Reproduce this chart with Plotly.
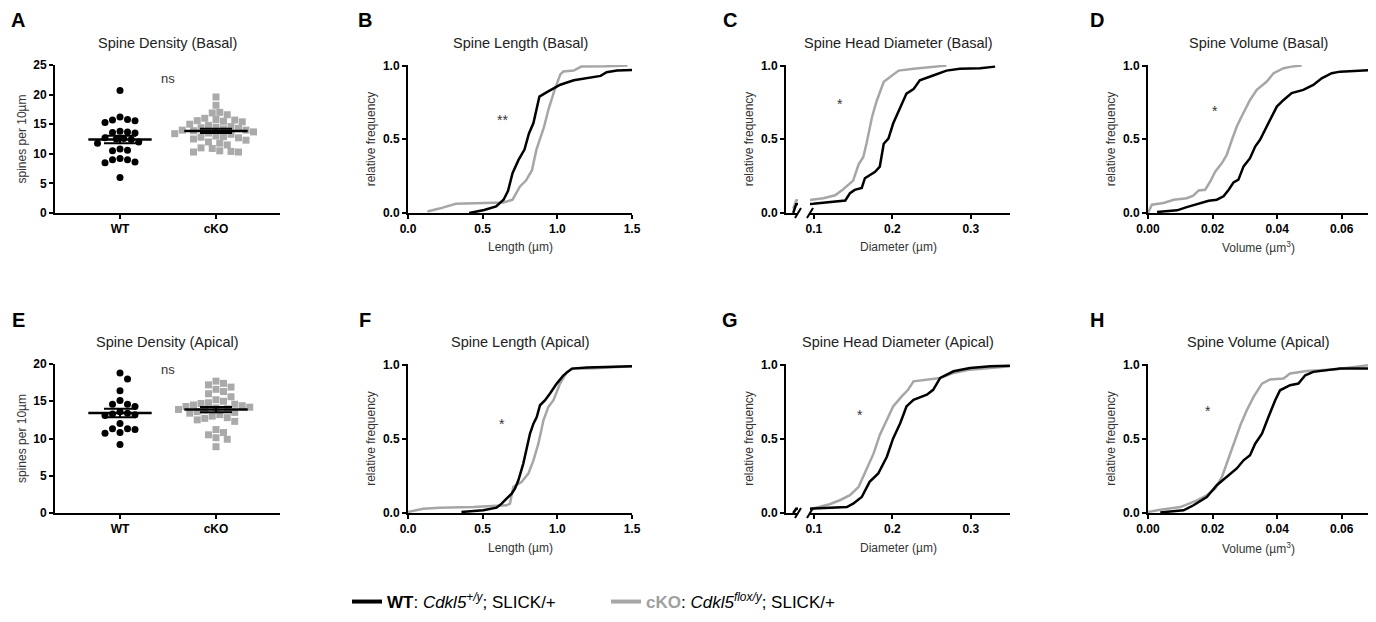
import numpy as np
import plotly.graph_objects as go

# the page body keeps its default 8px margin, so the figure is drawn 16px smaller
PAGE_W, PAGE_H = 1376, 622
BODY = 8
W, H = PAGE_W - 2 * BODY, PAGE_H - 2 * BODY
FONT = "Liberation Sans, Arial, sans-serif"
INK = "#000000"
GREY = "#a6a6a6"
TXT = "#333333"

groups = ["WT", "cKO"]

density_basal_wt = [20.7, 16.2, 15.8, 15.7, 15.6, 15.3, 13.8, 13.7, 13.6, 13.5, 12.7, 12.6, 12.5,
                    12.4, 12.0, 11.8, 10.8, 10.6, 10.5, 9.0, 9.0, 9.2, 8.5, 8.6, 6.0]
density_basal_cko = [19.6, 18.2, 17.0, 16.9, 16.6, 16.0, 15.8, 15.7, 15.6, 15.5, 15.4, 15.0, 14.8,
                     14.6, 14.5, 14.4, 14.3, 14.2, 14.0, 14.0, 13.9, 13.7, 13.5, 13.4, 13.3, 13.0,
                     12.9, 12.8, 12.7, 12.5, 12.3, 12.0, 11.8, 11.5, 11.0, 10.9, 10.5, 10.4, 10.3, 10.3]
density_apical_wt = [18.8, 18.0, 16.4, 15.1, 14.6, 14.3, 14.6, 13.3, 13.2, 13.1, 13.6, 13.4, 12.0,
                     11.3, 11.3, 11.2, 10.8, 10.7, 9.2]
density_apical_cko = [17.7, 17.4, 17.2, 16.9, 16.6, 16.3, 16.0, 15.6, 15.2, 15.0, 14.8, 14.6, 14.5,
                      14.3, 14.2, 14.1, 14.0, 13.9, 13.8, 13.6, 13.4, 13.2, 13.0, 12.8, 12.7, 12.5,
                      12.3, 13.5, 14.4, 14.7, 11.2, 10.8, 10.5, 10.1, 9.9, 8.9]

# cumulative distributions: x value, relative frequency
length_basal_wt_x = [0.41, 0.51, 0.59, 0.64, 0.67, 0.70, 0.74, 0.78, 0.81, 0.84, 0.86, 0.88, 0.93,
                     0.97, 1.02, 1.11, 1.29, 1.33, 1.40, 1.50]
length_basal_wt_y = [0.0, 0.02, 0.045, 0.09, 0.15, 0.27, 0.36, 0.43, 0.54, 0.61, 0.70, 0.79, 0.82,
                     0.84, 0.87, 0.90, 0.93, 0.955, 0.966, 0.97]
length_basal_cko_x = [0.13, 0.21, 0.32, 0.44, 0.64, 0.70, 0.75, 0.79, 0.83, 0.86, 0.91, 0.94, 0.98,
                      1.02, 1.04, 1.11, 1.16, 1.33, 1.47]
length_basal_cko_y = [0.01, 0.03, 0.063, 0.067, 0.072, 0.09, 0.18, 0.22, 0.29, 0.43, 0.58, 0.70,
                      0.83, 0.94, 0.96, 0.966, 0.993, 0.995, 1.0]

diam_basal_wt_x = [0.088, 0.0905, 0.099, 0.116, 0.140, 0.146, 0.152, 0.161, 0.165, 0.178, 0.184,
                   0.189, 0.195, 0.201, 0.210, 0.218, 0.227, 0.235, 0.252, 0.269, 0.286, 0.312, 0.331]
diam_basal_wt_y = [0.0, 0.06, 0.063, 0.072, 0.085, 0.135, 0.157, 0.17, 0.236, 0.28, 0.315, 0.47,
                   0.505, 0.607, 0.72, 0.81, 0.84, 0.90, 0.933, 0.966, 0.978, 0.982, 0.993]
diam_basal_cko_x = [0.088, 0.0905, 0.097, 0.112, 0.127, 0.137, 0.150, 0.157, 0.163, 0.167, 0.174,
                    0.180, 0.189, 0.197, 0.208, 0.227, 0.252, 0.269]
diam_basal_cko_y = [0.03, 0.085, 0.09, 0.10, 0.12, 0.16, 0.22, 0.33, 0.38, 0.47, 0.65, 0.76, 0.89,
                    0.92, 0.966, 0.978, 0.99, 1.0]

vol_basal_wt_x = [0.0028, 0.009, 0.012, 0.016, 0.0188, 0.0213, 0.0234, 0.025, 0.0265, 0.028, 0.0296,
                  0.0316, 0.0332, 0.0347, 0.0368, 0.0384, 0.0399, 0.042, 0.0445, 0.0481, 0.0512,
                  0.0538, 0.0569, 0.0595, 0.0636, 0.07]
vol_basal_wt_y = [0.007, 0.018, 0.04, 0.068, 0.083, 0.09, 0.113, 0.158, 0.208, 0.226, 0.316, 0.372,
                  0.451, 0.497, 0.587, 0.666, 0.722, 0.767, 0.813, 0.835, 0.869, 0.914, 0.948, 0.959,
                  0.964, 0.97]
vol_basal_cko_x = [0.0, 0.0012, 0.0048, 0.008, 0.012, 0.014, 0.0157, 0.0177, 0.0193, 0.0208, 0.0229,
                   0.0244, 0.026, 0.0275, 0.029, 0.0316, 0.0337, 0.0368, 0.0389, 0.042, 0.0445, 0.0476]
vol_basal_cko_y = [0.0, 0.056, 0.068, 0.09, 0.10, 0.117, 0.153, 0.158, 0.214, 0.28, 0.339, 0.395,
                   0.497, 0.587, 0.655, 0.767, 0.835, 0.892, 0.948, 0.982, 0.993, 1.0]

length_apical_wt_x = [0.358, 0.504, 0.593, 0.627, 0.66, 0.694, 0.716, 0.739, 0.772, 0.795, 0.817,
                      0.84, 0.862, 0.884, 0.918, 0.951, 0.996, 1.041, 1.097, 1.198, 1.5]
length_apical_wt_y = [0.007, 0.018, 0.036, 0.063, 0.097, 0.13, 0.164, 0.22, 0.333, 0.445, 0.535,
                      0.602, 0.647, 0.726, 0.76, 0.805, 0.872, 0.928, 0.973, 0.98, 0.989]
length_apical_cko_x = [0.0, 0.1, 0.213, 0.437, 0.66, 0.683, 0.705, 0.76, 0.806, 0.84, 0.873, 0.907,
                       0.94, 0.974, 1.018, 1.063, 1.108, 1.22, 1.5]
length_apical_cko_y = [0.007, 0.029, 0.036, 0.04, 0.052, 0.063, 0.175, 0.209, 0.265, 0.355, 0.467,
                       0.625, 0.715, 0.76, 0.872, 0.95, 0.973, 0.973, 0.989]

diam_apical_wt_x = [0.088, 0.0905, 0.099, 0.125, 0.142, 0.150, 0.161, 0.171, 0.182, 0.193, 0.201,
                    0.210, 0.218, 0.227, 0.244, 0.252, 0.261, 0.278, 0.299, 0.325, 0.350]
diam_apical_wt_y = [0.0, 0.028, 0.03, 0.036, 0.04, 0.063, 0.108, 0.21, 0.266, 0.379, 0.503, 0.605,
                    0.718, 0.763, 0.797, 0.83, 0.91, 0.955, 0.977, 0.989, 0.993]
diam_apical_cko_x = [0.088, 0.0905, 0.099, 0.120, 0.133, 0.146, 0.157, 0.167, 0.176, 0.184, 0.193,
                     0.201, 0.212, 0.220, 0.227, 0.244, 0.261, 0.278, 0.299, 0.325, 0.350]
diam_apical_cko_y = [0.0, 0.028, 0.03, 0.059, 0.086, 0.12, 0.176, 0.29, 0.40, 0.526, 0.628, 0.718,
                     0.786, 0.83, 0.887, 0.898, 0.91, 0.944, 0.966, 0.977, 0.989]

vol_apical_wt_x = [0.0038, 0.011, 0.0141, 0.0182, 0.0213, 0.0244, 0.0275, 0.0296, 0.0316, 0.0332,
                   0.0353, 0.0373, 0.0394, 0.0409, 0.044, 0.0466, 0.0487, 0.0512, 0.0595, 0.07]
vol_apical_wt_y = [0.004, 0.018, 0.052, 0.108, 0.187, 0.243, 0.30, 0.355, 0.389, 0.467, 0.535, 0.647,
                   0.76, 0.827, 0.861, 0.872, 0.928, 0.951, 0.973, 0.973]
vol_apical_cko_x = [0.0, 0.0038, 0.01, 0.0152, 0.0182, 0.0208, 0.0229, 0.0244, 0.0265, 0.0286,
                    0.0306, 0.0327, 0.0353, 0.0378, 0.042, 0.044, 0.0492, 0.0584, 0.07]
vol_apical_cko_y = [0.007, 0.022, 0.04, 0.085, 0.119, 0.164, 0.243, 0.333, 0.467, 0.591, 0.692,
                    0.782, 0.872, 0.90, 0.906, 0.94, 0.957, 0.969, 1.0]


def px_x(p):
    # page pixel -> paper fraction
    return min(max((p - BODY) / W, 0.0), 1.0)


def px_y(p):
    return min(max(1 - (p - BODY) / H, 0.0), 1.0)


def swarm(values, center, sx, sy, diam=7.5):
    """Simple beeswarm: offset each point sideways until it no longer overlaps."""
    vals = np.asarray(values, dtype=float)
    xs = np.zeros(len(vals))
    placed = []
    step = diam * 0.5 / sx
    for i in np.argsort(-vals):
        v = vals[i]
        for k in range(0, 60):
            cands = [center] if k == 0 else [center + k * step, center - k * step]
            hit = None
            for c in cands:
                if all(((c - px) * sx) ** 2 + ((v - py) * sy) ** 2 >= diam ** 2 for px, py in placed):
                    hit = c
                    break
            if hit is not None:
                break
        xs[i] = hit
        placed.append((hit, v))
    return xs


tickfont = dict(family=FONT, size=12, color=INK, weight="bold")
titlefont = dict(family=FONT, size=12, color=TXT)


def axis_style(**kw):
    base = dict(showline=True, linewidth=2, linecolor=INK, ticks="outside", ticklen=4,
                tickwidth=2, tickcolor=INK, showgrid=False, zeroline=False, tickfont=tickfont,
                fixedrange=True, automargin=False)
    base.update(kw)
    return base


fig = go.Figure()
layout = {}
annotations = []
shapes = []

rows = [dict(top=65, bottom=213, xtitle_y=247, title_y=43, letter_y=20),
        dict(top=364, bottom=513, xtitle_y=548, title_y=342, letter_y=320)]

# horizontal panel geometry, page pixels (figure ends at page x 1368)
PANEL_A = (55, 280)
PANEL_B = (408, 632)
PANEL_C_STUB = (786, 798)
PANEL_C = (810, 1010)
PANEL_D = (1148, 1368)
VOL_MAX = 0.07 * (PANEL_D[1] - PANEL_D[0]) / 226  # keep the reference scale of 0.07 over 226px

ax_n = [0]


def new_axes():
    ax_n[0] += 1
    return ax_n[0]


def add_title(text, cx, cy, size=14.5, bold=False, color="#222222"):
    annotations.append(dict(text=text, x=px_x(cx), y=px_y(cy), xref="paper", yref="paper",
                            showarrow=False, xanchor="center", yanchor="middle",
                            font=dict(family=FONT, size=size, color=color,
                                      weight="bold" if bold else "normal")))


def density_panel(row, wt, cko, ymax, title, letter, star_y):
    r = rows[row]
    n = new_axes()
    xa, ya = f"x{n}", f"y{n}"
    sy = (r["bottom"] - r["top"]) / ymax
    sx = 96.0
    x0 = (PANEL_A[0] - 120) / sx
    x1 = x0 + (PANEL_A[1] - PANEL_A[0]) / sx
    for i, (vals, sym, col) in enumerate([(wt, "circle", INK), (cko, "square", "#aaaaaa")]):
        xs = swarm(vals, i, sx, sy)
        fig.add_trace(go.Scatter(x=xs, y=vals, mode="markers", xaxis=xa, yaxis=ya,
                                 marker=dict(symbol=sym, size=7, color=col), showlegend=False,
                                 hoverinfo="y", cliponaxis=False))
        m = float(np.mean(vals))
        sem = float(np.std(vals, ddof=1) / np.sqrt(len(vals)))
        fig.add_trace(go.Scatter(x=[i - 0.33, i + 0.33], y=[m, m], mode="lines", xaxis=xa, yaxis=ya,
                                 line=dict(color=INK, width=2.5), showlegend=False, hoverinfo="skip"))
        fig.add_trace(go.Scatter(x=[i], y=[m], mode="markers", xaxis=xa, yaxis=ya,
                                 marker=dict(size=1, color="rgba(0,0,0,0)"),
                                 error_y=dict(type="data", array=[sem], color=INK, thickness=2, width=16),
                                 showlegend=False, hoverinfo="skip"))
    key = "" if n == 1 else str(n)
    layout[f"xaxis{key}"] = axis_style(domain=[px_x(PANEL_A[0]), px_x(PANEL_A[1])], range=[x0, x1],
                                       tickvals=[0, 1], ticktext=groups, anchor=ya)
    layout[f"yaxis{key}"] = axis_style(domain=[px_y(r["bottom"]), px_y(r["top"])], range=[0, ymax],
                                       dtick=5, anchor=xa,
                                       title=dict(text="spines per 10µm", font=titlefont, standoff=4))
    annotations.append(dict(text="ns", x=0.5, y=star_y, xref=xa, yref=ya, showarrow=False,
                            font=dict(family=FONT, size=13, color=TXT)))
    add_title(title, sum(PANEL_A) / 2, r["title_y"])
    add_title(letter, 18, r["letter_y"], size=20, bold=True, color=INK)


def cdf_axes(row, span, rng, dtick, fmt, xtitle, stub=None):
    r = rows[row]
    ydom = [px_y(r["bottom"]), px_y(r["top"])]
    yfmt = dict(domain=ydom, range=[0, 1.004], tickvals=[0, 0.5, 1], tickformat=".1f",
                title=dict(text="relative frequency", font=titlefont, standoff=5))
    if stub is None:
        n = new_axes()
        layout[f"xaxis{n}"] = axis_style(domain=[px_x(span[0]), px_x(span[1])], range=rng,
                                         dtick=dtick, tick0=0, tickformat=fmt, anchor=f"y{n}")
        layout[f"yaxis{n}"] = axis_style(anchor=f"x{n}", **yfmt)
        add_title(xtitle, sum(span) / 2, r["xtitle_y"], size=12, color=TXT)
        return [(f"x{n}", f"y{n}")]
    ns = new_axes()
    nm = new_axes()
    layout[f"xaxis{ns}"] = axis_style(domain=[px_x(stub[0]), px_x(stub[1])], range=[0.082, 0.092],
                                      ticks="", showticklabels=False, anchor=f"y{ns}")
    layout[f"yaxis{ns}"] = axis_style(anchor=f"x{ns}", **yfmt)
    layout[f"xaxis{nm}"] = axis_style(domain=[px_x(span[0]), px_x(span[1])], range=rng,
                                      dtick=dtick, tick0=0, tickformat=fmt, anchor=f"y{ns}")
    # axis break marks
    yb = r["bottom"]
    for bx in (stub[1], span[0]):
        shapes.append(dict(type="line", xref="paper", yref="paper",
                           x0=px_x(bx - 3), x1=px_x(bx + 3), y0=px_y(yb + 5), y1=px_y(yb - 5),
                           line=dict(color=INK, width=2)))
    add_title(xtitle, (stub[0] + span[1]) / 2, r["xtitle_y"], size=12, color=TXT)
    return [(f"x{ns}", f"y{ns}"), (f"x{nm}", f"y{ns}")]


def cdf_panel(row, span, rng, dtick, fmt, xtitle, title, letter, letter_x, curves, star, stub=None):
    r = rows[row]
    pairs = cdf_axes(row, span, rng, dtick, fmt, xtitle, stub)
    for xa, ya in pairs:
        for (cx, cy, col) in curves:
            fig.add_trace(go.Scatter(x=cx, y=cy, mode="lines", xaxis=xa, yaxis=ya,
                                     line=dict(color=col, width=2.5), showlegend=False,
                                     hoverinfo="x+y"))
    left = stub[0] if stub else span[0]
    add_title(title, (left + span[1]) / 2, r["title_y"])
    add_title(letter, letter_x, r["letter_y"], size=20, bold=True, color=INK)
    xa, ya = pairs[-1]
    annotations.append(dict(text=star[0], x=star[1], y=star[2], xref=xa, yref=ya, showarrow=False,
                            yshift=-3, font=dict(family=FONT, size=14, color=TXT)))


# row 1: basal
density_panel(0, density_basal_wt, density_basal_cko, 25, "Spine Density (Basal)", "A", 22.7)
cdf_panel(0, PANEL_B, [0, 1.5], 0.5, ".1f", "Length (µm)", "Spine Length (Basal)", "B", 365,
          [(length_basal_cko_x, length_basal_cko_y, GREY), (length_basal_wt_x, length_basal_wt_y, INK)],
          ("**", 0.63, 0.65))
cdf_panel(0, PANEL_C, [0.095, 0.35], 0.1, ".1f", "Diameter (µm)", "Spine Head Diameter (Basal)", "C", 730,
          [(diam_basal_cko_x, diam_basal_cko_y, GREY), (diam_basal_wt_x, diam_basal_wt_y, INK)],
          ("*", 0.133, 0.76), stub=PANEL_C_STUB)
cdf_panel(0, PANEL_D, [0, VOL_MAX], 0.02, ".2f", "Volume (µm<sup>3</sup>)", "Spine Volume (Basal)", "D", 1097,
          [(vol_basal_cko_x, vol_basal_cko_y, GREY), (vol_basal_wt_x, vol_basal_wt_y, INK)],
          ("*", 0.0207, 0.71))

# row 2: apical
density_panel(1, density_apical_wt, density_apical_cko, 20, "Spine Density (Apical)", "E", 19.2)
cdf_panel(1, PANEL_B, [0, 1.5], 0.5, ".1f", "Length (µm)", "Spine Length (Apical)", "F", 365,
          [(length_apical_cko_x, length_apical_cko_y, GREY), (length_apical_wt_x, length_apical_wt_y, INK)],
          ("*", 0.63, 0.62))
cdf_panel(1, PANEL_C, [0.095, 0.35], 0.1, ".1f", "Diameter (µm)", "Spine Head Diameter (Apical)", "G", 730,
          [(diam_apical_cko_x, diam_apical_cko_y, GREY), (diam_apical_wt_x, diam_apical_wt_y, INK)],
          ("*", 0.159, 0.68), stub=PANEL_C_STUB)
cdf_panel(1, PANEL_D, [0, VOL_MAX], 0.02, ".2f", "Volume (µm<sup>3</sup>)", "Spine Volume (Apical)", "H", 1097,
          [(vol_apical_cko_x, vol_apical_cko_y, GREY), (vol_apical_wt_x, vol_apical_wt_y, INK)],
          ("*", 0.0186, 0.71))

# legend-only entries
legend_names = ["<b>WT</b>: <i>Cdkl5</i><sup><i>+/y</i></sup>; SLICK/+",
                "<span style='color:#a0a0a0'><b>cKO</b></span>: <i>Cdkl5</i><sup><i>flox/y</i></sup>; SLICK/+"]
for name, col in zip(legend_names, [INK, GREY]):
    fig.add_trace(go.Scatter(x=[None], y=[None], mode="lines", name=name, xaxis="x2", yaxis="y2",
                             line=dict(color=col, width=4), showlegend=True))

fig.update_layout(
    width=W, height=H, autosize=False,
    margin=dict(l=0, r=0, t=0, b=0, pad=0, autoexpand=False),
    paper_bgcolor="white", plot_bgcolor="white",
    font=dict(family=FONT, size=12, color=TXT),
    annotations=annotations, shapes=shapes,
    legend=dict(orientation="h", x=px_x(347), y=px_y(602), xanchor="left", yanchor="middle",
                entrywidth=214, entrywidthmode="pixels", itemwidth=30,
                font=dict(family=FONT, size=17, color=INK), bgcolor="rgba(0,0,0,0)"),
    **layout,
)
fig.write_html("out.html")
